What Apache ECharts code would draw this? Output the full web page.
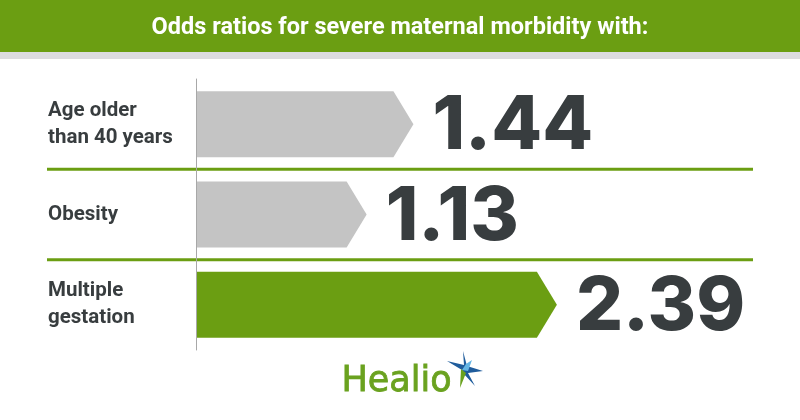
<!DOCTYPE html>
<html>
<head>
<meta charset="utf-8">
<script src="https://cdn.jsdelivr.net/npm/echarts@6/dist/echarts.min.js"></script>
<style>
  html, body { margin: 0; padding: 0; background: #ffffff; }
  #chart { width: 800px; height: 420px; }
</style>
</head>
<body>
<div id="chart"></div>
<script>
// ---- data ----
const titleText = 'Odds ratios for severe maternal morbidity with:';
const categories = ['Age older\nthan 40 years', 'Obesity', 'Multiple\ngestation'];
const oddsRatios = [1.44, 1.13, 2.39];
const highlighted = [false, false, true];
const logoText = 'Healio';

// ---- styles ----
const GREEN = '#6b9e12';
const GRAY_BAR = '#c4c4c4';
const DARK = '#383d3f';

const chart = echarts.init(document.getElementById('chart'), null, { renderer: 'canvas' });

const seriesData = oddsRatios.map((v, i) => [v, i]);

const option = {
  animation: false,
  backgroundColor: '#ffffff',
  title: {
    text: titleText,
    left: 'center',
    top: 11,
    textStyle: { color: '#ffffff', fontFamily: 'Roboto', fontWeight: 'bold', fontSize: 23.5 }
  },
  graphic: [
    { type: 'rect', z: -1, shape: { x: 0, y: 0, width: 800, height: 52 }, style: { fill: GREEN } },
    { type: 'rect', z: -1, shape: { x: 0, y: 52, width: 800, height: 7 }, style: { fill: '#dcdcdf' } },
    { type: 'text', left: 341, top: 364,
      style: { text: logoText, fill: '#6aa21f', stroke: '#6aa21f', lineWidth: 0.8, fontFamily: 'DejaVu Sans', fontSize: 35, fontWeight: 'normal' } },
    { type: 'polygon', shape: { points: [[462,370],[447,361],[464,365],[463,351],[467,366],[483,371],[468,373],[475,386],[463,373]] },
      style: { fill: '#1f5c9c' } },
    { type: 'polygon', shape: { points: [[462,370],[466,364],[472,360],[468,371]] }, style: { fill: '#63b4e4' } },
    { type: 'polygon', shape: { points: [[461,369],[466,373],[460,388]] }, style: { fill: '#6aa21f' } }
  ],
  grid: { left: 196, top: 79, width: 608, height: 271, containLabel: false },
  xAxis: {
    type: 'value', min: 0, max: 4, show: false
  },
  yAxis: {
    type: 'category',
    data: categories,
    inverse: true,
    axisLine: { show: true, lineStyle: { color: '#a8a8a8', width: 1 } },
    axisTick: { show: false },
    splitLine: { show: false },
    axisLabel: {
      align: 'left',
      margin: 148,
      color: DARK,
      fontFamily: 'Roboto',
      fontWeight: 'bold',
      fontSize: 20.5,
      lineHeight: 27
    },
    z: 5
  },
  series: [{
    type: 'custom',
    data: seriesData,
    encode: { x: 0, y: 1 },
    clip: false,
    renderItem: function (params, api) {
      const v = api.value(0);
      const c = api.value(1);
      const start = api.coord([0, c]);
      const end = api.coord([v, c]);
      const band = api.size([0, 1])[1];
      const h = band * 0.73;
      const cy = start[1];
      const head = 20;
      const x0 = start[0] + 1;
      const children = [{
        type: 'polygon',
        shape: { points: [[x0, cy - h / 2], [end[0] - head, cy - h / 2], [end[0], cy], [end[0] - head, cy + h / 2], [x0, cy + h / 2]] },
        style: { fill: highlighted[params.dataIndex] ? GREEN : GRAY_BAR }
      }, {
        type: 'text',
        x: end[0] + 19,
        y: cy + 3,
        style: {
          text: v.toFixed(2),
          fill: DARK,
          fontFamily: 'Inter',
          fontWeight: 800,
          fontSize: 74,
          verticalAlign: 'middle',
          align: 'left'
        }
      }];
      if (params.dataIndex > 0) {
        const ly = cy - band / 2;
        children.push({
          type: 'line',
          z2: -1,
          shape: { x1: 47, y1: ly, x2: 753, y2: ly },
          style: { stroke: GREEN, lineWidth: 3 }
        });
      }
      return { type: 'group', children: children };
    }
  }]
};

chart.setOption(option);
</script>
</body>
</html>
